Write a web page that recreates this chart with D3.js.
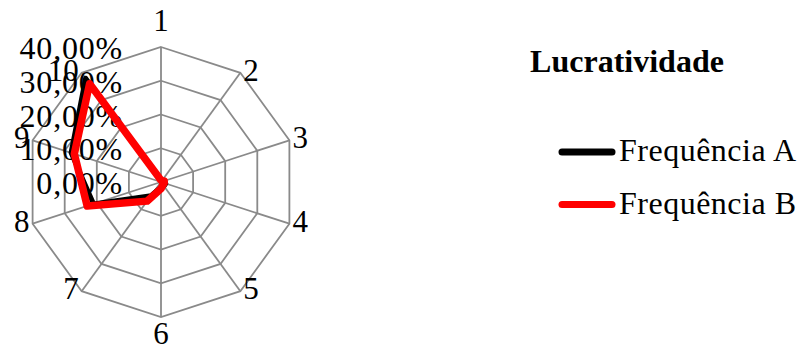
<!DOCTYPE html>
<html>
<head>
<meta charset="utf-8">
<script src="https://cdn.jsdelivr.net/npm/d3@7"></script>
<style>
  body { margin: 0; background: #fff; }
  svg text { font-family: "Liberation Serif", "DejaVu Serif", serif; fill: #000; }
</style>
</head>
<body>
<svg id="drawing_region"></svg>
<script>
// data
const categories = ["1", "2", "3", "4", "5", "6", "7", "8", "9", "10"];
const freqA = [0.005, 0.005, 0.01, 0.015, 0.015, 0.015, 0.05, 0.21, 0.28, 0.38];
const freqB = [0.005, 0.005, 0.01, 0.01, 0.01, 0.02, 0.07, 0.23, 0.27, 0.36];
const tickValues = [0, 0.1, 0.2, 0.3, 0.4];
const seriesNames = ["Frequência A", "Frequência B"];
const seriesColors = ["#000000", "#ff0000"];
const title = "Lucratividade";

const config = {
    width: 803,
    height: 349,
    cx: 161,
    cy: 182,
    radius: 135,
    fontSize: 31,
};

const svg = d3.select('#drawing_region')
    .attr('width', config.width)
    .attr('height', config.height);

const chart = svg.append('g')
    .attr('transform', `translate(${config.cx}, ${config.cy})`);

const rscale = d3.scaleLinear()
    .domain([0, 0.4])
    .range([0, config.radius]);

const ascale = d3.scaleLinear()
    .domain([0, categories.length])
    .range([0, 2 * Math.PI]);

const fmt = v => d3.format(".2f")(v * 100).replace(".", ",") + "%";

const pt = (i, v) => {
    const a = ascale(i);
    return [Math.sin(a) * rscale(v), -Math.cos(a) * rscale(v)];
};

// grid rings
const ring = d3.lineRadial()
    .angle((d, i) => ascale(i))
    .radius(d => rscale(d))
    .curve(d3.curveLinearClosed);

chart.selectAll('.ring').data(tickValues.slice(1)).enter()
    .append('path')
    .attr('d', t => ring(categories.map(() => t)))
    .attr('fill', 'none')
    .attr('stroke', '#8a8a8a')
    .attr('stroke-width', 1.8);

// spokes
chart.selectAll('.spoke').data(categories).enter()
    .append('line')
    .attr('x1', 0).attr('y1', 0)
    .attr('x2', (d, i) => pt(i, 0.4)[0])
    .attr('y2', (d, i) => pt(i, 0.4)[1])
    .attr('stroke', '#8a8a8a')
    .attr('stroke-width', 1.8);

// category labels: beside the vertex on the sides, above / below at top and bottom
chart.selectAll('.cat').data(categories).enter()
    .append('text')
    .attr('font-size', config.fontSize)
    .attr('text-anchor', (d, i) => {
        const s = Math.sin(ascale(i));
        return s > 0.1 ? 'start' : (s < -0.1 ? 'end' : 'middle');
    })
    .attr('x', (d, i) => {
        const s = Math.sin(ascale(i));
        return pt(i, 0.4)[0] + (s > 0.1 ? 3 : (s < -0.1 ? -3 : 0));
    })
    .attr('y', (d, i) => {
        const c = Math.cos(ascale(i));
        const y = pt(i, 0.4)[1];
        if (c > 0.9) return y - 16;
        if (c < -0.9) return y + 27;
        return y + 8;
    })
    .text(d => d);

// value axis labels
chart.selectAll('.tick').data(tickValues).enter()
    .append('text')
    .attr('font-size', 32)
    .attr('letter-spacing', 0.8)
    .attr('text-anchor', 'end')
    .attr('x', -38)
    .attr('y', d => -rscale(d) + 12)
    .text(d => fmt(d));

// series
const line = d3.lineRadial()
    .angle((d, i) => ascale(i))
    .radius(d => rscale(d))
    .curve(d3.curveLinearClosed);

const widths = [5, 7.5];
chart.selectAll('.series').data([freqA, freqB]).enter()
    .append('path')
    .attr('d', d => line(d))
    .attr('fill', 'none')
    .attr('stroke', (d, i) => seriesColors[i])
    .attr('stroke-width', (d, i) => widths[i])
    .attr('stroke-linejoin', 'round');

// legend
const legend = svg.append('g');
legend.append('text')
    .attr('x', 627)
    .attr('y', 72)
    .attr('text-anchor', 'middle')
    .attr('font-size', 32)
    .attr('font-weight', 'bold')
    .text(title);

const items = legend.selectAll('.item').data(seriesNames).enter()
    .append('g')
    .attr('transform', (d, i) => `translate(0, ${152 + i * 52.5})`);
items.append('line')
    .attr('x1', 562).attr('x2', 612)
    .attr('y1', 0).attr('y2', 0)
    .attr('stroke', (d, i) => seriesColors[i])
    .attr('stroke-width', 7)
    .attr('stroke-linecap', 'round');
items.append('text')
    .attr('x', 619)
    .attr('y', 9)
    .attr('font-size', 32)
    .attr('letter-spacing', 0.5)
    .text(d => d);
</script>
</body>
</html>
